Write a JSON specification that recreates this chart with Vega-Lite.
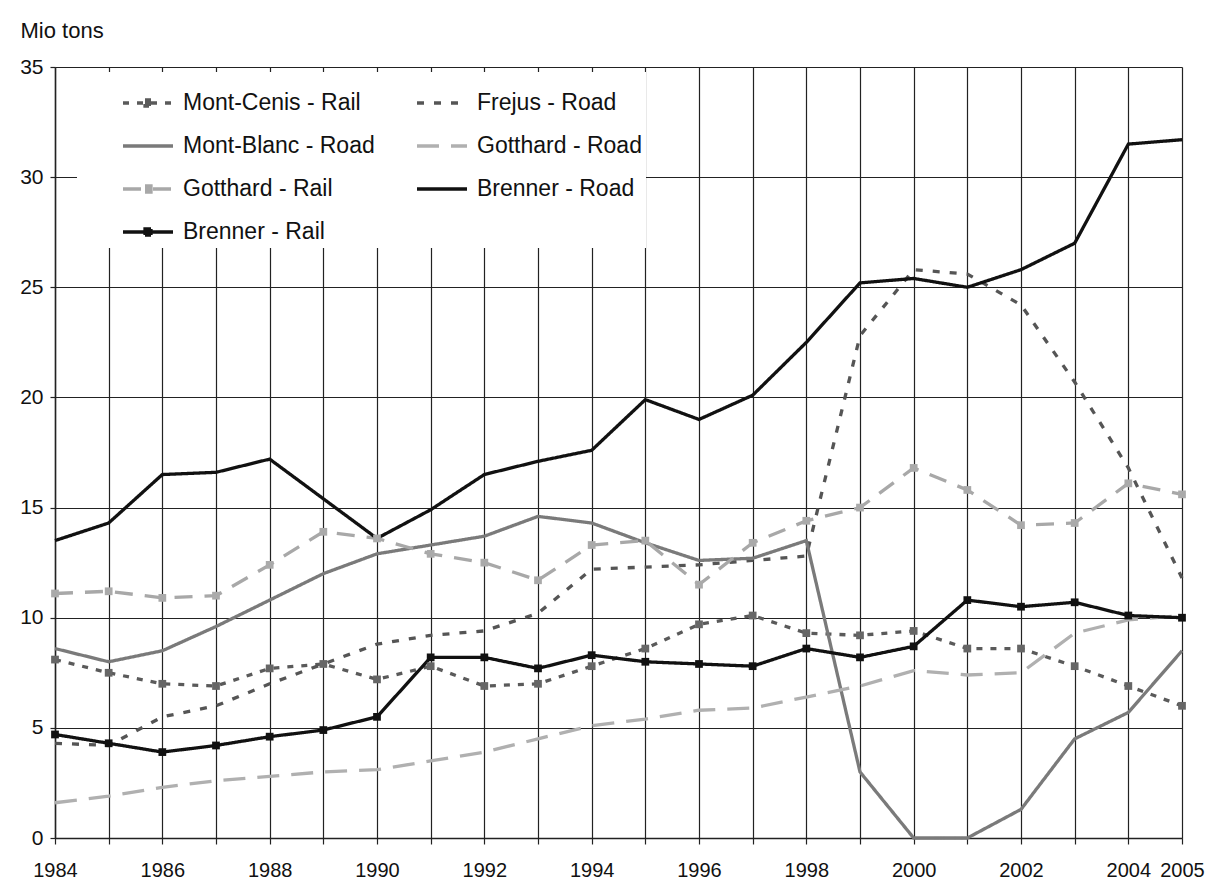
{
  "$schema": "https://vega.github.io/schema/vega-lite/v6.json",
  "width": 1127,
  "height": 771,
  "autosize": {"type": "none"},
  "padding": {"left": 55, "top": 67, "right": 31, "bottom": 54},
  "background": "white",
  "config": {
    "font": "Liberation Sans",
    "view": {"stroke": null},
    "axis": {"gridColor": "#222", "gridOpacity": 1, "gridWidth": 1.2, "tickColor": "#222", "tickWidth": 1.2, "domainColor": "#222", "domainWidth": 1.5, "labelColor": "#111", "labelFont": "Liberation Sans"}
  },
  "data": {"values": [
    {"series": "Mont-Cenis - Rail", "year": 1984, "value": 8.1},
    {"series": "Mont-Cenis - Rail", "year": 1985, "value": 7.5},
    {"series": "Mont-Cenis - Rail", "year": 1986, "value": 7.0},
    {"series": "Mont-Cenis - Rail", "year": 1987, "value": 6.9},
    {"series": "Mont-Cenis - Rail", "year": 1988, "value": 7.7},
    {"series": "Mont-Cenis - Rail", "year": 1989, "value": 7.9},
    {"series": "Mont-Cenis - Rail", "year": 1990, "value": 7.2},
    {"series": "Mont-Cenis - Rail", "year": 1991, "value": 7.8},
    {"series": "Mont-Cenis - Rail", "year": 1992, "value": 6.9},
    {"series": "Mont-Cenis - Rail", "year": 1993, "value": 7.0},
    {"series": "Mont-Cenis - Rail", "year": 1994, "value": 7.8},
    {"series": "Mont-Cenis - Rail", "year": 1995, "value": 8.6},
    {"series": "Mont-Cenis - Rail", "year": 1996, "value": 9.7},
    {"series": "Mont-Cenis - Rail", "year": 1997, "value": 10.1},
    {"series": "Mont-Cenis - Rail", "year": 1998, "value": 9.3},
    {"series": "Mont-Cenis - Rail", "year": 1999, "value": 9.2},
    {"series": "Mont-Cenis - Rail", "year": 2000, "value": 9.4},
    {"series": "Mont-Cenis - Rail", "year": 2001, "value": 8.6},
    {"series": "Mont-Cenis - Rail", "year": 2002, "value": 8.6},
    {"series": "Mont-Cenis - Rail", "year": 2003, "value": 7.8},
    {"series": "Mont-Cenis - Rail", "year": 2004, "value": 6.9},
    {"series": "Mont-Cenis - Rail", "year": 2005, "value": 6.0},
    {"series": "Frejus - Road", "year": 1984, "value": 4.3},
    {"series": "Frejus - Road", "year": 1985, "value": 4.2},
    {"series": "Frejus - Road", "year": 1986, "value": 5.5},
    {"series": "Frejus - Road", "year": 1987, "value": 6.0},
    {"series": "Frejus - Road", "year": 1988, "value": 7.0},
    {"series": "Frejus - Road", "year": 1989, "value": 7.9},
    {"series": "Frejus - Road", "year": 1990, "value": 8.8},
    {"series": "Frejus - Road", "year": 1991, "value": 9.2},
    {"series": "Frejus - Road", "year": 1992, "value": 9.4},
    {"series": "Frejus - Road", "year": 1993, "value": 10.2},
    {"series": "Frejus - Road", "year": 1994, "value": 12.2},
    {"series": "Frejus - Road", "year": 1995, "value": 12.3},
    {"series": "Frejus - Road", "year": 1996, "value": 12.4},
    {"series": "Frejus - Road", "year": 1997, "value": 12.6},
    {"series": "Frejus - Road", "year": 1998, "value": 12.8},
    {"series": "Frejus - Road", "year": 1999, "value": 22.8},
    {"series": "Frejus - Road", "year": 2000, "value": 25.8},
    {"series": "Frejus - Road", "year": 2001, "value": 25.6},
    {"series": "Frejus - Road", "year": 2002, "value": 24.2},
    {"series": "Frejus - Road", "year": 2003, "value": 20.7},
    {"series": "Frejus - Road", "year": 2004, "value": 16.8},
    {"series": "Frejus - Road", "year": 2005, "value": 11.8},
    {"series": "Mont-Blanc - Road", "year": 1984, "value": 8.6},
    {"series": "Mont-Blanc - Road", "year": 1985, "value": 8.0},
    {"series": "Mont-Blanc - Road", "year": 1986, "value": 8.5},
    {"series": "Mont-Blanc - Road", "year": 1987, "value": 9.6},
    {"series": "Mont-Blanc - Road", "year": 1988, "value": 10.8},
    {"series": "Mont-Blanc - Road", "year": 1989, "value": 12.0},
    {"series": "Mont-Blanc - Road", "year": 1990, "value": 12.9},
    {"series": "Mont-Blanc - Road", "year": 1991, "value": 13.3},
    {"series": "Mont-Blanc - Road", "year": 1992, "value": 13.7},
    {"series": "Mont-Blanc - Road", "year": 1993, "value": 14.6},
    {"series": "Mont-Blanc - Road", "year": 1994, "value": 14.3},
    {"series": "Mont-Blanc - Road", "year": 1995, "value": 13.4},
    {"series": "Mont-Blanc - Road", "year": 1996, "value": 12.6},
    {"series": "Mont-Blanc - Road", "year": 1997, "value": 12.7},
    {"series": "Mont-Blanc - Road", "year": 1998, "value": 13.5},
    {"series": "Mont-Blanc - Road", "year": 1999, "value": 3.0},
    {"series": "Mont-Blanc - Road", "year": 2000, "value": 0},
    {"series": "Mont-Blanc - Road", "year": 2001, "value": 0},
    {"series": "Mont-Blanc - Road", "year": 2002, "value": 1.3},
    {"series": "Mont-Blanc - Road", "year": 2003, "value": 4.5},
    {"series": "Mont-Blanc - Road", "year": 2004, "value": 5.7},
    {"series": "Mont-Blanc - Road", "year": 2005, "value": 8.5},
    {"series": "Gotthard - Road", "year": 1984, "value": 1.6},
    {"series": "Gotthard - Road", "year": 1985, "value": 1.9},
    {"series": "Gotthard - Road", "year": 1986, "value": 2.3},
    {"series": "Gotthard - Road", "year": 1987, "value": 2.6},
    {"series": "Gotthard - Road", "year": 1988, "value": 2.8},
    {"series": "Gotthard - Road", "year": 1989, "value": 3.0},
    {"series": "Gotthard - Road", "year": 1990, "value": 3.1},
    {"series": "Gotthard - Road", "year": 1991, "value": 3.5},
    {"series": "Gotthard - Road", "year": 1992, "value": 3.9},
    {"series": "Gotthard - Road", "year": 1993, "value": 4.5},
    {"series": "Gotthard - Road", "year": 1994, "value": 5.1},
    {"series": "Gotthard - Road", "year": 1995, "value": 5.4},
    {"series": "Gotthard - Road", "year": 1996, "value": 5.8},
    {"series": "Gotthard - Road", "year": 1997, "value": 5.9},
    {"series": "Gotthard - Road", "year": 1998, "value": 6.4},
    {"series": "Gotthard - Road", "year": 1999, "value": 6.9},
    {"series": "Gotthard - Road", "year": 2000, "value": 7.6},
    {"series": "Gotthard - Road", "year": 2001, "value": 7.4},
    {"series": "Gotthard - Road", "year": 2002, "value": 7.5},
    {"series": "Gotthard - Road", "year": 2003, "value": 9.3},
    {"series": "Gotthard - Road", "year": 2004, "value": 9.9},
    {"series": "Gotthard - Road", "year": 2005, "value": 10.1},
    {"series": "Gotthard - Rail", "year": 1984, "value": 11.1},
    {"series": "Gotthard - Rail", "year": 1985, "value": 11.2},
    {"series": "Gotthard - Rail", "year": 1986, "value": 10.9},
    {"series": "Gotthard - Rail", "year": 1987, "value": 11.0},
    {"series": "Gotthard - Rail", "year": 1988, "value": 12.4},
    {"series": "Gotthard - Rail", "year": 1989, "value": 13.9},
    {"series": "Gotthard - Rail", "year": 1990, "value": 13.6},
    {"series": "Gotthard - Rail", "year": 1991, "value": 12.9},
    {"series": "Gotthard - Rail", "year": 1992, "value": 12.5},
    {"series": "Gotthard - Rail", "year": 1993, "value": 11.7},
    {"series": "Gotthard - Rail", "year": 1994, "value": 13.3},
    {"series": "Gotthard - Rail", "year": 1995, "value": 13.5},
    {"series": "Gotthard - Rail", "year": 1996, "value": 11.5},
    {"series": "Gotthard - Rail", "year": 1997, "value": 13.4},
    {"series": "Gotthard - Rail", "year": 1998, "value": 14.4},
    {"series": "Gotthard - Rail", "year": 1999, "value": 15.0},
    {"series": "Gotthard - Rail", "year": 2000, "value": 16.8},
    {"series": "Gotthard - Rail", "year": 2001, "value": 15.8},
    {"series": "Gotthard - Rail", "year": 2002, "value": 14.2},
    {"series": "Gotthard - Rail", "year": 2003, "value": 14.3},
    {"series": "Gotthard - Rail", "year": 2004, "value": 16.1},
    {"series": "Gotthard - Rail", "year": 2005, "value": 15.6},
    {"series": "Brenner - Road", "year": 1984, "value": 13.5},
    {"series": "Brenner - Road", "year": 1985, "value": 14.3},
    {"series": "Brenner - Road", "year": 1986, "value": 16.5},
    {"series": "Brenner - Road", "year": 1987, "value": 16.6},
    {"series": "Brenner - Road", "year": 1988, "value": 17.2},
    {"series": "Brenner - Road", "year": 1989, "value": 15.4},
    {"series": "Brenner - Road", "year": 1990, "value": 13.6},
    {"series": "Brenner - Road", "year": 1991, "value": 14.9},
    {"series": "Brenner - Road", "year": 1992, "value": 16.5},
    {"series": "Brenner - Road", "year": 1993, "value": 17.1},
    {"series": "Brenner - Road", "year": 1994, "value": 17.6},
    {"series": "Brenner - Road", "year": 1995, "value": 19.9},
    {"series": "Brenner - Road", "year": 1996, "value": 19.0},
    {"series": "Brenner - Road", "year": 1997, "value": 20.1},
    {"series": "Brenner - Road", "year": 1998, "value": 22.5},
    {"series": "Brenner - Road", "year": 1999, "value": 25.2},
    {"series": "Brenner - Road", "year": 2000, "value": 25.4},
    {"series": "Brenner - Road", "year": 2001, "value": 25.0},
    {"series": "Brenner - Road", "year": 2002, "value": 25.8},
    {"series": "Brenner - Road", "year": 2003, "value": 27.0},
    {"series": "Brenner - Road", "year": 2004, "value": 31.5},
    {"series": "Brenner - Road", "year": 2005, "value": 31.7},
    {"series": "Brenner - Rail", "year": 1984, "value": 4.7},
    {"series": "Brenner - Rail", "year": 1985, "value": 4.3},
    {"series": "Brenner - Rail", "year": 1986, "value": 3.9},
    {"series": "Brenner - Rail", "year": 1987, "value": 4.2},
    {"series": "Brenner - Rail", "year": 1988, "value": 4.6},
    {"series": "Brenner - Rail", "year": 1989, "value": 4.9},
    {"series": "Brenner - Rail", "year": 1990, "value": 5.5},
    {"series": "Brenner - Rail", "year": 1991, "value": 8.2},
    {"series": "Brenner - Rail", "year": 1992, "value": 8.2},
    {"series": "Brenner - Rail", "year": 1993, "value": 7.7},
    {"series": "Brenner - Rail", "year": 1994, "value": 8.3},
    {"series": "Brenner - Rail", "year": 1995, "value": 8.0},
    {"series": "Brenner - Rail", "year": 1996, "value": 7.9},
    {"series": "Brenner - Rail", "year": 1997, "value": 7.8},
    {"series": "Brenner - Rail", "year": 1998, "value": 8.6},
    {"series": "Brenner - Rail", "year": 1999, "value": 8.2},
    {"series": "Brenner - Rail", "year": 2000, "value": 8.7},
    {"series": "Brenner - Rail", "year": 2001, "value": 10.8},
    {"series": "Brenner - Rail", "year": 2002, "value": 10.5},
    {"series": "Brenner - Rail", "year": 2003, "value": 10.7},
    {"series": "Brenner - Rail", "year": 2004, "value": 10.1},
    {"series": "Brenner - Rail", "year": 2005, "value": 10.0}
  ]},
  "encoding": {
    "x": {
      "field": "year", "type": "quantitative",
      "scale": {"domain": [1984, 2005], "nice": false, "zero": false},
      "axis": {
        "title": null,
        "values": [1984,1985,1986,1987,1988,1989,1990,1991,1992,1993,1994,1995,1996,1997,1998,1999,2000,2001,2002,2003,2004,2005],
        "labelExpr": "(datum.value % 2 == 0 || datum.value == 2005) ? format(datum.value, 'd') : ''",
        "labelFontSize": 20,
        "labelPadding": 16,
        "labelFlush": false,
        "labelOverlap": false,
        "tickSize": 6,
        "grid": true
      }
    },
    "y": {
      "field": "value", "type": "quantitative",
      "scale": {"domain": [0, 35], "nice": false},
      "axis": {
        "title": "Mio tons",
        "titleAngle": 0,
        "titleAlign": "left",
        "titleBaseline": "middle",
        "titleX": -35,
        "titleY": -37,
        "titleFontSize": 22,
        "titleFontWeight": "normal",
        "titleColor": "#111",
        "values": [0, 5, 10, 15, 20, 25, 30, 35],
        "labelFontSize": 21,
        "labelPadding": 7,
        "tickSize": 5,
        "grid": true
      }
    }
  },
  "layer": [
    {
      "mark": {"type": "line", "strokeWidth": 3.3, "strokeJoin": "miter"},
      "encoding": {
        "color": {
          "field": "series", "type": "nominal",
          "scale": {
            "domain": ["Mont-Cenis - Rail", "Frejus - Road", "Mont-Blanc - Road", "Gotthard - Road", "Gotthard - Rail", "Brenner - Road", "Brenner - Rail"],
            "range": ["#5a5a5a", "#555555", "#7a7a7a", "#b0b0b0", "#a8a8a8", "#111111", "#111111"]
          },
          "legend": {
            "title": null,
            "orient": "none",
            "direction": "horizontal",
            "legendX": 22,
            "legendY": 5,
            "columns": 2,
            "fillColor": "white",
            "padding": 4,
            "symbolSize": 2500,
            "symbolStrokeWidth": 3.3,
            "symbolOffset": 40,
            "labelFontSize": 23,
            "labelLimit": 400,
            "labelColor": "#111",
            "labelOffset": 8,
            "rowPadding": 4,
            "columnPadding": -9,
            "encode": {
              "symbols": {
                "update": {
                  "shape": {"signal": "indexof(['Mont-Cenis - Rail','Gotthard - Rail','Brenner - Rail'], datum.value) >= 0 ? 'M-1,0H1M-0.12,-0.12H0.12V0.12H-0.12Z' : 'stroke'"},
                  "fill": {"signal": "scale('color', datum.value)"}
                }
              }
            }
          }
        },
        "strokeDash": {
          "field": "series", "type": "nominal",
          "scale": {
            "domain": ["Mont-Cenis - Rail", "Frejus - Road", "Mont-Blanc - Road", "Gotthard - Road", "Gotthard - Rail", "Brenner - Road", "Brenner - Rail"],
            "range": [[6, 8], [7, 10], [1, 0], [22, 12], [18, 12], [1, 0], [1, 0]]
          }
        }
      }
    },
    {
      "transform": [{"filter": {"field": "series", "oneOf": ["Mont-Cenis - Rail", "Gotthard - Rail", "Brenner - Rail"]}}],
      "mark": {"type": "square", "size": 60, "filled": true, "opacity": 1},
      "encoding": {
        "fill": {
          "field": "series", "type": "nominal",
          "scale": {"domain": ["Mont-Cenis - Rail", "Gotthard - Rail", "Brenner - Rail"], "range": ["#666666", "#aaaaaa", "#111111"]},
          "legend": null
        }
      }
    }
  ]
}
